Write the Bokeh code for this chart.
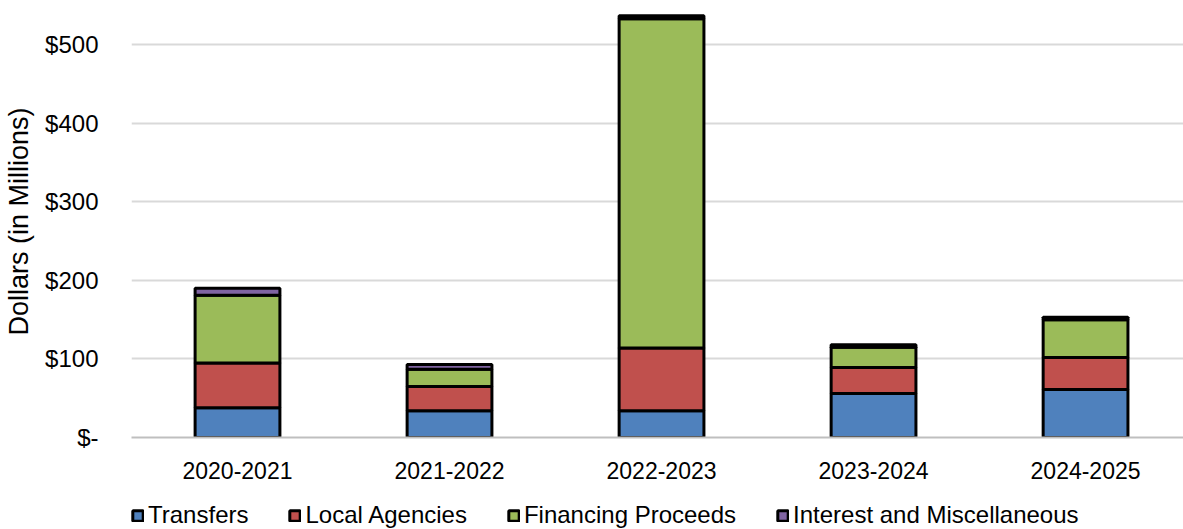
from bokeh.plotting import figure
from bokeh.layouts import column
from bokeh.models import ColumnDataSource, FixedTicker, Legend, CustomJSTickFormatter
from bokeh.embed import file_html
from bokeh.resources import INLINE

years = ["2020-2021", "2021-2022", "2022-2023", "2023-2024", "2024-2025"]
transfers = [38, 34, 34, 56, 61]
local_agencies = [57, 31, 80, 33, 41]
financing = [86, 22, 419, 26, 48]
interest = [9, 6, 4, 3, 3]

series = ["Transfers", "Local Agencies", "Financing Proceeds", "Interest and Miscellaneous"]
colors = ["#4f81bd", "#c0504d", "#9bbb59", "#8064a2"]

src = ColumnDataSource(dict(
    x=list(range(len(years))),
    Transfers=transfers,
    **{"Local Agencies": local_agencies,
       "Financing Proceeds": financing,
       "Interest and Miscellaneous": interest},
))

FONT = "Liberation Sans"

p = figure(width=1183, height=495, output_backend="svg", toolbar_location=None,
           x_range=(-0.5, 4.462), y_range=(0, 550),
           min_border_left=131, min_border_right=0, min_border_top=5, min_border_bottom=58)
p.outline_line_color = None

renderers = p.vbar_stack(series, x="x", width=0.4, source=src, fill_color=colors,
                         line_color="black", line_width=3)

p.xaxis.ticker = FixedTicker(ticks=list(range(len(years))))
p.xaxis.major_label_overrides = {i: y for i, y in enumerate(years)}
p.xaxis.major_tick_line_color = None
p.xaxis.minor_tick_line_color = None
p.xaxis.axis_line_color = "#bfbfbf"
p.xaxis.axis_line_width = 2
p.xaxis.major_label_text_font = FONT
p.xaxis.major_label_text_font_size = "23px"
p.xaxis.major_label_text_color = "black"
p.xaxis.major_label_standoff = 18

p.yaxis.ticker = FixedTicker(ticks=[0, 100, 200, 300, 400, 500])
p.yaxis.formatter = CustomJSTickFormatter(code="return tick == 0 ? '$-' : '$' + tick;")
p.yaxis.major_tick_line_color = None
p.yaxis.minor_tick_line_color = None
p.yaxis.axis_line_color = None
p.yaxis.major_label_text_font = FONT
p.yaxis.major_label_text_font_size = "24px"
p.yaxis.major_label_text_color = "black"
p.yaxis.major_label_standoff = 27
p.yaxis.axis_label = "Dollars (in Millions)"
p.yaxis.axis_label_text_font = FONT
p.yaxis.axis_label_text_font_size = "27px"
p.yaxis.axis_label_text_font_style = "normal"
p.yaxis.axis_label_text_color = "black"
p.yaxis.axis_label_standoff = 8

p.xgrid.grid_line_color = None
p.ygrid.grid_line_color = "#d9d9d9"
p.ygrid.grid_line_width = 2

# legend strip below the chart
lg = figure(width=1183, height=34, output_backend="svg", toolbar_location=None,
            x_range=(0, 1), y_range=(0, 1), x_axis_type=None, y_axis_type=None,
            min_border=0)
lg.outline_line_color = None
lg.xgrid.grid_line_color = None
lg.ygrid.grid_line_color = None
dummies = [lg.vbar(x=[10], top=[0], width=0.1, fill_color=c, line_color="black", line_width=3)
           for c in colors]
legend = Legend(items=[(s, [r]) for s, r in zip(series, dummies)],
                orientation="horizontal", location=(0, 0),
                label_text_font=FONT, label_text_font_size="24px",
                label_text_color="black",
                glyph_width=13, glyph_height=13, label_standoff=4, spacing=40,
                border_line_color=None, background_fill_alpha=0,
                margin=0, padding=0)
lg.add_layout(legend, "center")

layout = column(p, lg, spacing=0)
open("out.html", "w").write(file_html(layout, INLINE))
